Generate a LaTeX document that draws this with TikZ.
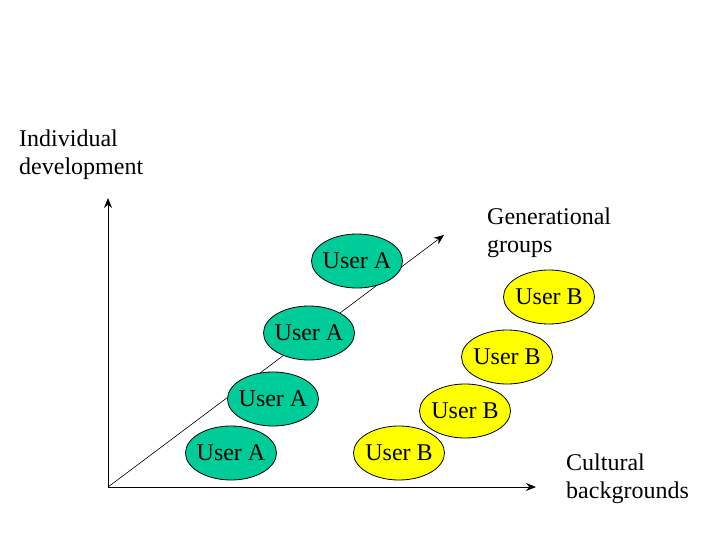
\documentclass[tikz,border=0pt]{standalone}
\usepackage{fontspec}
\setmainfont{Liberation Serif}
\usetikzlibrary{shapes.geometric, arrows.meta}
\definecolor{usergreen}{RGB}{0,204,153}
\definecolor{useryellow}{RGB}{255,255,0}
\tikzstyle{axis} = [line width=1pt,-{Stealth[length=10pt,width=8pt]}]
\tikzstyle{user} = [ellipse, draw, line width=0.8pt, minimum width=91pt, minimum height=54pt, inner xsep=-3pt, inner ysep=0pt, font=\fontsize{24}{28}\selectfont]
\tikzstyle{label} = [anchor=base west, align=left, inner sep=0pt, font=\fontsize{24}{28}\selectfont]

\begin{document}
\begin{tikzpicture}[x=1pt, y=-1pt]
        \useasboundingbox (0,0) rectangle (720,540);

        \coordinate (origin) at (108,487);
        \coordinate (ytip) at (108,198);
        \coordinate (xtip) at (536,487);
        \coordinate (dtip) at (444,235);

        \draw[axis] (origin) -- (ytip);
        \draw[axis] (origin) -- (xtip);
        \draw[axis, line width=0.6pt] (origin) -- (dtip);

        \node at (231,453) [user, fill=usergreen](ua1) {User A};
        \node at (273,399) [user, fill=usergreen](ua2) {User A};
        \node at (309,333) [user, fill=usergreen](ua3) {User A};
        \node at (357,261) [user, fill=usergreen](ua4) {User A};

        \node at (399,453) [user, fill=useryellow](ub1) {User B};
        \node at (465,411) [user, fill=useryellow](ub2) {User B};
        \node at (507,357) [user, fill=useryellow](ub3) {User B};
        \node at (549,297) [user, fill=useryellow](ub4) {User B};

        % base = last line
        \node at (19,175) [label](indiv) {Individual\\development};
        \node at (487,252) [label](gener) {Generational\\groups};
        \node at (566,498) [label](cult) {Cultural\\backgrounds};

    \end{tikzpicture}
\end{document}
